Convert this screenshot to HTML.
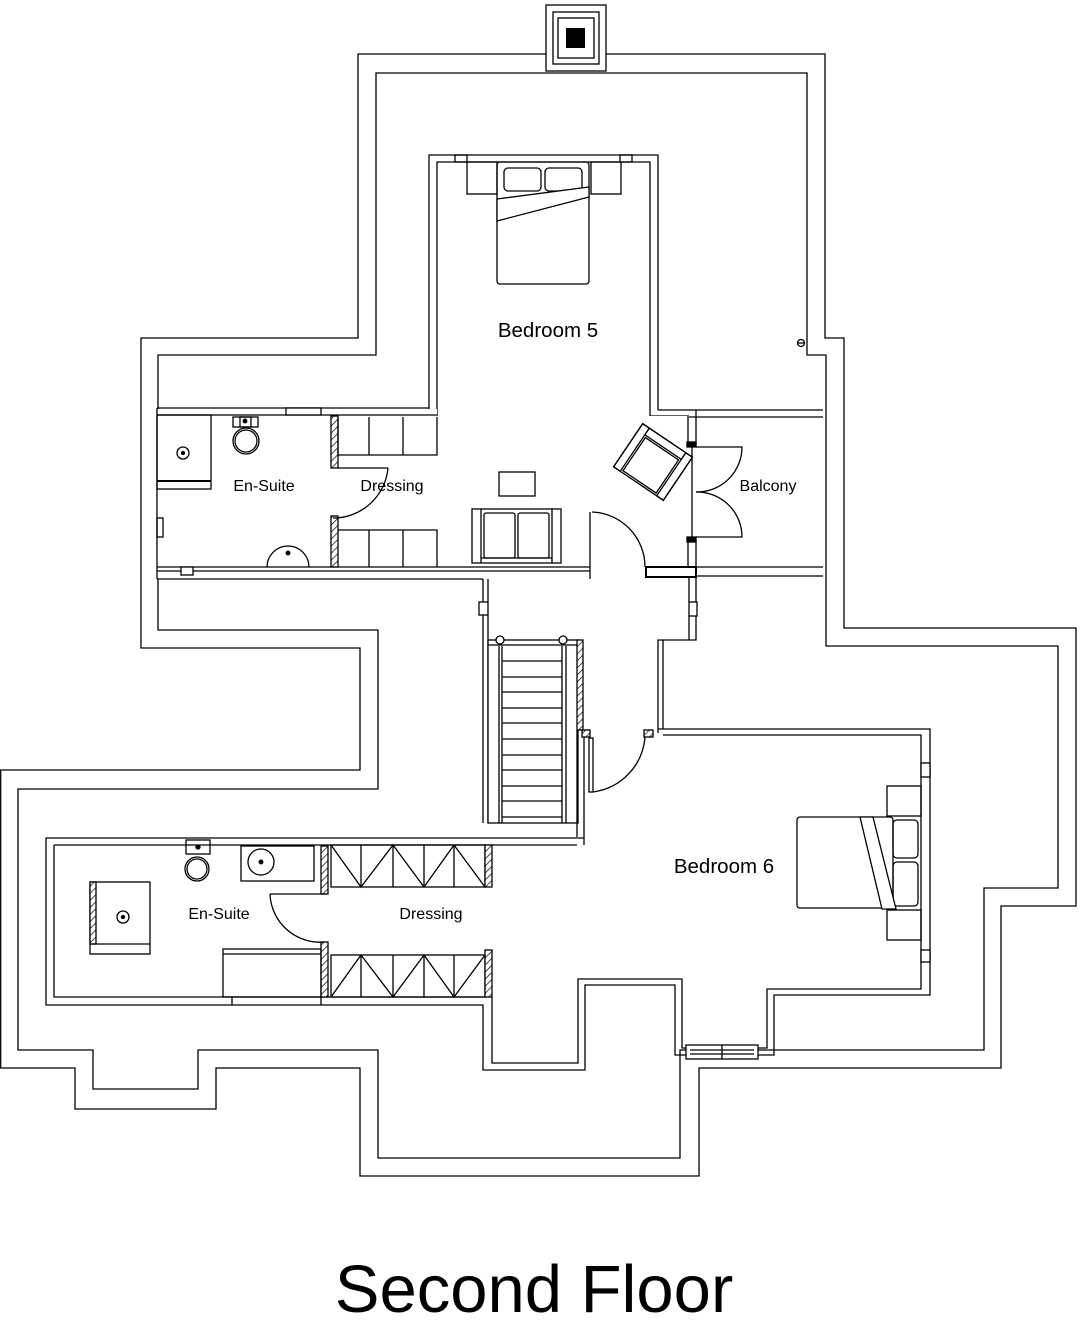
<!DOCTYPE html>
<html><head><meta charset="utf-8"><style>
html,body{margin:0;padding:0;background:#fff;}
svg{display:block}
text{font-family:"Liberation Sans",Arial,sans-serif;fill:#000}
</style></head><body>
<svg width="1080" height="1320" viewBox="0 0 1080 1320" xmlns="http://www.w3.org/2000/svg">
<defs>
<pattern id="h" width="5" height="5" patternUnits="userSpaceOnUse" patternTransform="rotate(45)">
<rect width="5" height="5" fill="#fff"/><line x1="0" y1="0" x2="0" y2="5" stroke="#000" stroke-width="1.4"/></pattern>
</defs>
<g fill="none" stroke="#000" stroke-width="1.3">
<path d="M358,54 H825 V338 H844 V628 H1076 V906 H1001 V1068 H699 V1176 H360 V1068 H216 V1109 H75 V1068 H0.7 V770 H360 V648 H141 V338 H358 Z"/>
<path d="M376,73 H807 V355 H826 V646 H1058 V888 H984 V1050 H680 V1158 H378 V1050 H198 V1089 H93 V1050 H18 V789 H378 V630 H158 V355 H376 Z"/>
</g>
<rect x="546" y="5" width="60" height="66" fill="#fff" stroke="#000" stroke-width="1.3"/>
<rect x="553" y="12" width="46" height="52" fill="#fff" stroke="#000" stroke-width="1.3"/>
<rect x="558" y="18" width="36" height="40" fill="#fff" stroke="#000" stroke-width="1.3"/>
<rect x="566" y="28" width="19" height="20" fill="#000"/>

<g fill="none" stroke="#000" stroke-width="1.3">
<rect x="429" y="155" width="229" height="262" fill="#fff" stroke="none"/>
<path d="M429,409 V155 H658 V410"/>
<path d="M437,416 V162 H650 V416 H689"/>
<rect x="455" y="155" width="12" height="7"/><rect x="620" y="155" width="12" height="7"/>
<rect x="157" y="409" width="280" height="170" fill="#fff" stroke="none"/>
<rect x="437" y="416" width="252" height="160" fill="#fff" stroke="none"/>
<path d="M157,408 H429 M157,415 H437"/>
<rect x="286" y="408" width="35" height="7" fill="#fff"/>
<path d="M157,408 V579"/>
<path d="M157,567 H590 M157,571 H590 M157,579 H483"/>
<line x1="590" y1="567" x2="590" y2="579"/>
<rect x="696" y="417" width="127" height="150" fill="#fff" stroke="none"/>
<path d="M658,410 H823 M689,417 H823 M696,567 H823 M696,576 H823"/>
<path d="M688,416 V445 M696,410 V445 M688,540 V567 M696,540 V576"/>
<line x1="692" y1="445" x2="692" y2="540"/>
<rect x="687" y="442" width="9" height="5" fill="#000"/><rect x="687" y="537" width="9" height="5" fill="#000"/>
<path d="M696,447 H742 A45,45 0 0 1 696,492"/>
<path d="M696,537 H742 A45,45 0 0 0 696,492"/>
<rect x="646" y="567" width="50" height="10" fill="#fff" stroke-width="2"/>
<path d="M483,579 V823 M488,579 V602 M488,615 V823"/>
<rect x="479" y="602" width="9" height="13" fill="#fff"/>
<path d="M696,577 V640 H663 V729 M689,577 V602 M689,616 V640 M689,640 H658 V733"/>
<rect x="689" y="602" width="8" height="14" fill="#fff"/>
<path d="M590,512 V567"/><path d="M592,512 A55,55 0 0 1 645,567"/>
<rect x="488" y="640" width="90" height="183" fill="#fff"/>
<path d="M499,646 V823 M502,646 V823 M562,646 V823 M566,646 V823"/>
<path d="M488,645 H577"/>
<path d="M502,661 H562 M502,677 H562 M502,692 H562 M502,708 H562 M502,723 H562 M502,739 H562 M502,755 H562 M502,770 H562 M502,786 H562 M502,801 H562 M502,817 H562"/>
<rect x="577" y="640" width="6" height="90" fill="url(#h)"/>
<circle cx="500" cy="640" r="4" fill="#fff"/><circle cx="563" cy="640" r="4" fill="#fff"/>
<path d="M577,730 V837 M584,737 V845"/>
<rect x="582" y="730" width="8" height="7" fill="url(#h)"/>
<rect x="644" y="730" width="9" height="7" fill="url(#h)"/>
<rect x="589" y="738" width="4" height="54" fill="#fff"/>
<path d="M593,792 A60,60 0 0 0 645,737"/>
<path d="M658,729 H930 V995 H774 V1055 H675 V985 H585 V1070 H483 V1005 H46 V838 H584"/>
<path d="M663,735 H921 V989 H767 V1048 H682 V979 H578 V1063 H492 V997"/>
<path d="M54,845 H577 M54,845 V997 H483"/>
<rect x="921" y="763" width="9" height="14" fill="#fff"/><rect x="921" y="950" width="9" height="12" fill="#fff"/>
<rect x="686" y="1045" width="72" height="14" fill="#fff"/>
<path d="M690,1050 H754 M690,1054 H754 M722,1045 V1059"/>
<rect x="331" y="845" width="154" height="42"/>
<path d="M361,845 V887 M393,845 V887 M424,845 V887 M454,845 V887"/>
<path d="M331,845 L361,887 L393,845 L424,887 L454,845 L485,887"/>
<rect x="485" y="845" width="7" height="42" fill="url(#h)"/>
<rect x="331" y="955" width="154" height="42"/>
<path d="M361,955 V997 M393,955 V997 M424,955 V997 M454,955 V997"/>
<path d="M331,997 L361,955 L393,997 L424,955 L454,997 L485,955"/>
<rect x="485" y="950" width="7" height="47" fill="url(#h)"/>
<rect x="321" y="846" width="7" height="48" fill="url(#h)"/>
<rect x="321" y="942" width="7" height="55" fill="url(#h)"/>
<path d="M270,894 H325"/><path d="M270,894 A50,50 0 0 0 324,942"/>
<rect x="186" y="840" width="24" height="14"/><circle cx="198" cy="847" r="2" fill="#000"/>
<circle cx="197" cy="869" r="12"/><circle cx="197" cy="869" r="10"/>
<rect x="241" y="846" width="73" height="35"/><circle cx="261" cy="862" r="13"/><circle cx="261" cy="862" r="1.8" fill="#000"/>
<rect x="90" y="882" width="60" height="72"/>
<rect x="90" y="882" width="6" height="62" fill="url(#h)"/>
<line x1="90" y1="944" x2="150" y2="944"/>
<circle cx="123" cy="917" r="6"/><circle cx="123" cy="917" r="1.5" fill="#000"/>
<rect x="223" y="949" width="98" height="48"/><line x1="223" y1="954" x2="321" y2="954"/>
<line x1="232" y1="997" x2="232" y2="1005"/><line x1="321" y1="997" x2="321" y2="1005"/>
<rect x="887" y="786" width="34" height="30"/><rect x="887" y="910" width="34" height="30"/>
<rect x="797" y="817" width="96" height="91" rx="3"/>
<rect x="893" y="820" width="25" height="38" rx="4"/><rect x="893" y="862" width="25" height="44" rx="4"/>
<path d="M860,817 L882,909 L896,909 L873,817 Z" fill="#fff"/>
<rect x="157" y="415" width="54" height="74"/><line x1="157" y1="481" x2="211" y2="481" stroke-width="2"/>
<circle cx="183" cy="453" r="6"/><circle cx="183" cy="453" r="1.5" fill="#000"/>
<rect x="233" y="417" width="25" height="10"/><rect x="240" y="417" width="11" height="10"/><circle cx="245" cy="421" r="1.8" fill="#000"/>
<circle cx="246" cy="441" r="13"/><circle cx="246" cy="441" r="11"/>
<path d="M267,567 A21,21 0 1 1 309,567"/><circle cx="288" cy="553" r="1.8" fill="#000"/>
<rect x="157" y="518" width="6" height="19"/><rect x="181" y="567" width="12" height="8" fill="#fff"/>
<rect x="331" y="416" width="7" height="52" fill="url(#h)"/>
<rect x="331" y="516" width="7" height="51" fill="url(#h)"/>
<path d="M338,417 V455 H437 V417 M369,417 V455 M403,417 V455"/>
<path d="M338,530 H437 V567 M369,530 V567 M403,530 V567"/>
<path d="M338,468 H388"/><path d="M388,468 A55,55 0 0 1 333,518"/>
<rect x="467" y="162" width="30" height="32"/><rect x="591" y="162" width="30" height="32"/>
<rect x="497" y="162" width="92" height="122" rx="3"/>
<rect x="504" y="168" width="37" height="23" rx="4"/><rect x="545" y="168" width="37" height="23" rx="4"/>
<path d="M497,199 L589,187 L589,197 L497,221 Z" fill="#fff"/>
<rect x="499" y="472" width="36" height="24"/>
<rect x="472" y="509" width="89" height="54"/>
<path d="M481,509 V563 M552,509 V563"/>
<rect x="484" y="513" width="31" height="45" rx="2"/><rect x="518" y="513" width="31" height="45" rx="2"/>
<line x1="481" y1="558" x2="552" y2="558"/>
<g transform="translate(653,462) rotate(34)">
<rect x="-30" y="-26" width="60" height="52" fill="#fff"/>
<rect x="-30" y="-26" width="8" height="52"/><rect x="22" y="-26" width="8" height="52"/>
<rect x="-22" y="-26" width="44" height="8"/>
<rect x="-20" y="-16" width="40" height="40"/>
</g>
<circle cx="801" cy="343" r="3.5"/><line x1="797" y1="343" x2="805" y2="343"/>
</g>
<g font-size="20.5"><text x="548" y="337" text-anchor="middle">Bedroom 5</text><text x="724" y="873" text-anchor="middle">Bedroom 6</text></g>
<g font-size="16" text-anchor="middle">
<text x="264" y="491">En-Suite</text><text x="392" y="491">Dressing</text><text x="768" y="491">Balcony</text>
<text x="219" y="919">En-Suite</text><text x="431" y="919">Dressing</text>
</g>
<text x="534" y="1312" font-size="67" text-anchor="middle">Second Floor</text>
</svg>
</body></html>
